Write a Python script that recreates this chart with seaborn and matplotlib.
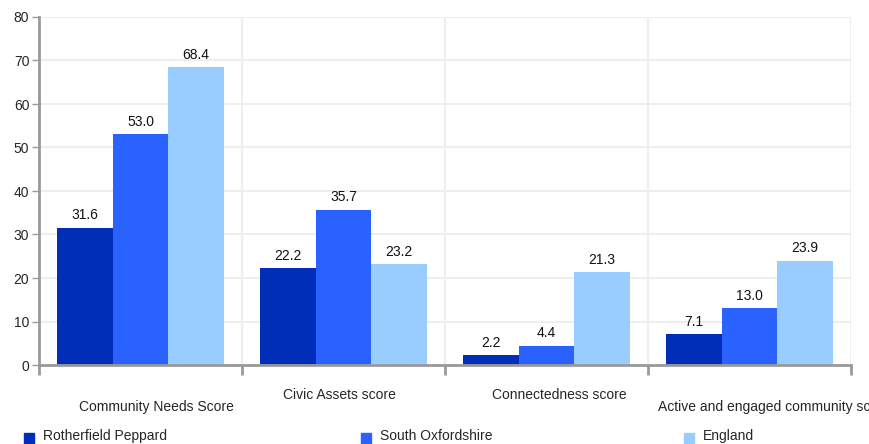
import numpy as np
import pandas as pd
import matplotlib
matplotlib.use('Agg')
import matplotlib.pyplot as plt
import matplotlib.transforms as mtransforms
import seaborn as sns

# Veriler
categories = ['Community Needs Score', 'Civic Assets score', 'Connectedness score',
              'Active and engaged community score']
areas = ['Rotherfield Peppard', 'South Oxfordshire', 'England']
rotherfield = [31.6, 22.2, 2.2, 7.1]
south_oxon = [53.0, 35.7, 4.4, 13.0]
england = [68.4, 23.2, 21.3, 23.9]
colors = ['#002EB8', '#2962FF', '#99CCFF']

data = pd.DataFrame({
    'Kategori': categories * 3,
    'Alan': [a for a in areas for _ in categories],
    'Deger': rotherfield + south_oxon + england,
})

sns.set_style('white')
plt.rcParams['font.family'] = ['Liberation Sans', 'DejaVu Sans']

fig = plt.figure(figsize=(8.7, 4.44), dpi=100)
ax = fig.add_axes([39 / 870, 1 - 365 / 444, (851 - 39) / 870, (365 - 17) / 444])

sns.barplot(data=data, x='Kategori', y='Deger', hue='Alan', hue_order=areas,
            palette=colors, width=0.82, saturation=1, legend=False, ax=ax,
            edgecolor='none', linewidth=0)

ax.set_xlim(-0.5, 3.5)
ax.set_ylim(0, 80)
ax.set_yticks(np.arange(0, 81, 10))
ax.set_xlabel('')
ax.set_ylabel('')

# Izgara
for y in np.arange(10, 81, 10):
    ax.axhline(y, color='#eeeeee', lw=1.5, zorder=0)
for x in [0.5, 1.5, 2.5, 3.5]:
    ax.axvline(x, color='#eeeeee', lw=1.5, zorder=0)

for s in ['top', 'right']:
    ax.spines[s].set_visible(False)
for s in ['left', 'bottom']:
    ax.spines[s].set_color('#999999')
    ax.spines[s].set_linewidth(2)

ax.tick_params(axis='y', length=5, width=1, color='#999999', labelsize=10, pad=2,
               left=True)
ax.set_xticks([-0.5, 0.5, 1.5, 2.5, 3.5])
ax.set_xticklabels([])
ax.tick_params(axis='x', length=7, width=2, color='#999999', bottom=True)

# Kategori etiketleri (kademeli)
trans = mtransforms.blended_transform_factory(ax.transData, fig.transFigure)
offsets = [0.08, -0.02, 0.065, 0.12]
label_y = [407, 395, 395, 407]
for i, cat in enumerate(categories):
    ax.text(i + offsets[i], 1 - label_y[i] / 444, cat, transform=trans,
            ha='center', va='center', fontsize=10, clip_on=False)

# Deger etiketleri
for cont in ax.containers:
    ax.bar_label(cont, fmt='%.1f', padding=4, fontsize=10, color='#111111')

# Lejant
leg_x = [24, 361, 684]
for x, c, a in zip(leg_x, colors, areas):
    fig.patches.append(plt.Rectangle((x / 870, 0), 10 / 870, 11 / 444,
                                     transform=fig.transFigure, color=c, figure=fig))
    fig.text((x + 19) / 870, 1 - 436 / 444, a, fontsize=10, va='center', ha='left')

fig.savefig('out.png', dpi=100)
